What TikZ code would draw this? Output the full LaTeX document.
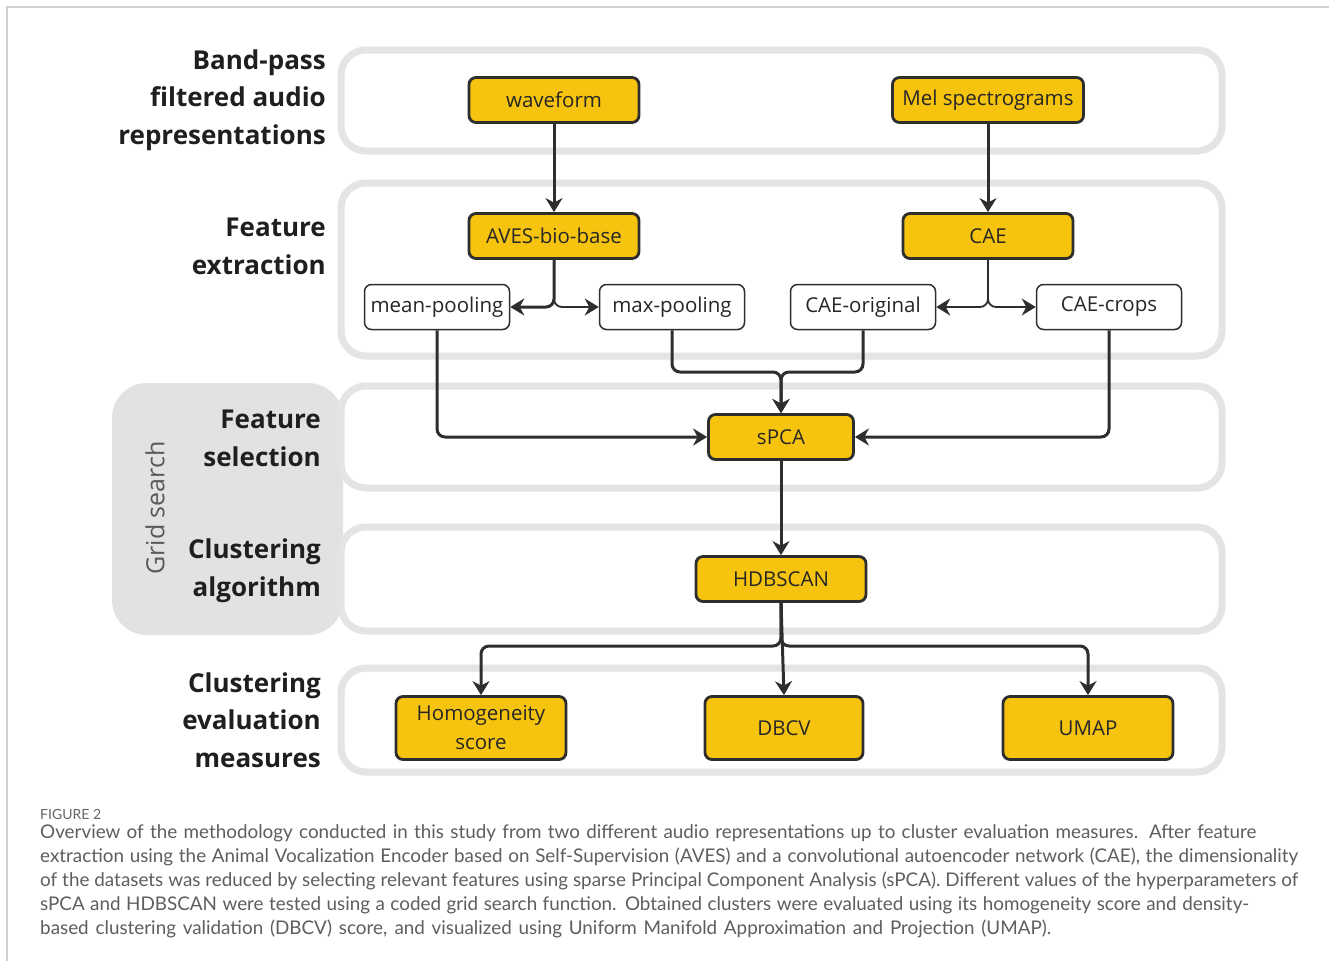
\documentclass[tikz,border=0pt]{standalone}
\usepackage{fontspec}
\setmainfont{Open Sans}
\newfontfamily\capfont{Lato}
\usetikzlibrary{arrows.meta}
\definecolor{ybox}{HTML}{F6C40F}
\definecolor{panelgray}{HTML}{E4E4E4}
\definecolor{gridgray}{HTML}{E2E2E2}
\definecolor{lineC}{HTML}{2E2E2E}
\definecolor{capgray}{HTML}{5E5E5E}
\definecolor{framec}{HTML}{D0D0D0}
\newcommand{\capline}[2]{\hbox to #1pt{#2}}
\begin{document}
\begin{tikzpicture}[x=1pt,y=-1pt,
  panel/.style={draw=panelgray, line width=7pt, fill=white, rounded corners=25pt},
  ynode/.style={draw=lineC, line width=2.8pt, fill=ybox, rounded corners=7pt, minimum width=170pt, minimum height=45pt, inner sep=0pt, font=\fontsize{20.5}{24}\selectfont, text=black!85, align=center},
  wnode/.style={draw=lineC, line width=1.5pt, fill=white, rounded corners=7pt, minimum width=145pt, minimum height=45pt, inner sep=0pt, font=\fontsize{20.5}{24}\selectfont, text=black!85},
  lbl/.style={anchor=east, align=right, inner sep=0pt, font=\fontsize{26}{37.5}\selectfont\bfseries, text=black!88},
  conn/.style={draw=lineC, line width=3pt, rounded corners=8pt, -{Stealth[length=14pt,width=17pt,inset=4.5pt]}},
  tconn/.style={draw=lineC, line width=1.8pt, rounded corners=8pt, -{Stealth[length=14pt,width=17pt,inset=4.5pt]}}
]
\useasboundingbox (0,0) rectangle (1329,961);
\fill[white] (0,0) rectangle (1329,961);
\draw[framec, line width=1.5pt] (7,961) -- (7,7) -- (1329,7);

% grid search backdrop
\fill[gridgray, rounded corners=35pt] (112,383) rectangle (343,635);
\node[rotate=90, font=\fontsize{25}{30}\selectfont, text=black!65, inner sep=0pt] (grid) at (155,508) {Grid search};

% panels
\draw[panel] (341,50) rectangle (1222,151);
\draw[panel] (341,183) rectangle (1222,356);
\draw[panel] (341,386) rectangle (1222,488);
\draw[panel] (341,527) rectangle (1222,631);
\draw[panel] (341,668) rectangle (1222,772);

% labels
\node[lbl] (L1) at (326,100) {Band-pass\\filtered audio\\representations};
\node[lbl] (L2) at (326,246.5) {Feature\\extraction};
\node[lbl] (L3) at (321,438.5) {Feature\\selection};
\node[lbl] (L4) at (321,570.5) {Clustering\\algorithm};
\node[lbl] (L5) at (321,720) {Clustering\\evaluation\\measures};

% nodes
\node[ynode] (wave) at (554,100) {waveform};
\node[ynode, minimum width=191pt] (mel) at (988,100) {Mel spectrograms};
\node[ynode] (aves) at (554,236) {AVES-bio-base};
\node[ynode] (cae) at (988,236) {CAE};
\node[wnode] (mean) at (437,307) {mean-pooling};
\node[wnode] (max) at (672,307) {max-pooling};
\node[wnode] (corig) at (863,307) {CAE-original};
\node[wnode] (ccrop) at (1109,307) {CAE-crops};
\node[ynode, minimum width=145pt] (spca) at (781,437) {sPCA};
\node[ynode] (hdb) at (781,579) {HDBSCAN};
\node[ynode, minimum height=63pt] (hom) at (481,728) {Homogeneity\\[5pt]score};
\node[ynode, minimum width=158pt, minimum height=63pt] (dbcv) at (784,728) {DBCV};
\node[ynode, minimum height=63pt] (umap) at (1088,728) {UMAP};

\coordinate (j1) at (781,372);
\coordinate (j2) at (781,646);

% connectors
\draw[conn] (wave) -- (aves);
\draw[conn] (mel) -- (cae);
\draw[conn] (aves.south) |- (mean.east);
\draw[tconn] (aves.south) |- (max.west);
\draw[tconn] (cae.south) |- (corig.east);
\draw[tconn] (cae.south) |- (ccrop.west);
\draw[conn] (mean.south) |- (spca.west);
\draw[conn] (ccrop.south) |- (spca.east);
\draw[conn] (max.south) |- (j1) -- (spca.north);
\draw[conn] (corig.south) |- (j1) -- (spca.north);
\draw[conn] (spca) -- (hdb);
\draw[conn] (hdb.south) -- (j2) -| (hom.north);
\draw[conn] (hdb.south) -- (j2) -| (umap.north);
\draw[conn] (hdb.south) -- (dbcv.north);

% caption
\node[anchor=base west, inner sep=0pt, font=\capfont\fontsize{14}{16}\selectfont, text=black!60] (fig) at (40,819) {FIGURE 2};
\node[anchor=north west, inner sep=0pt, align=left, font=\capfont\fontsize{18.85}{24}\selectfont, text=capgray] (cap) at (40,824) {\capline{1216}{Overview of the methodology conducted in this study from two different audio representations up to cluster evaluation measures. After feature}\\
\capline{1258}{extraction using the Animal Vocalization Encoder based on Self-Supervision (AVES) and a convolutional autoencoder network (CAE), the dimensionality}\\
\capline{1258}{of the datasets was reduced by selecting relevant features using sparse Principal Component Analysis (sPCA). Different values of the hyperparameters of}\\
\capline{1209}{sPCA and HDBSCAN were tested using a coded grid search function. Obtained clusters were evaluated using its homogeneity score and density-}\\
\capline{1011}{based clustering validation (DBCV) score, and visualized using Uniform Manifold Approximation and Projection (UMAP).}};
\end{tikzpicture}
\end{document}
